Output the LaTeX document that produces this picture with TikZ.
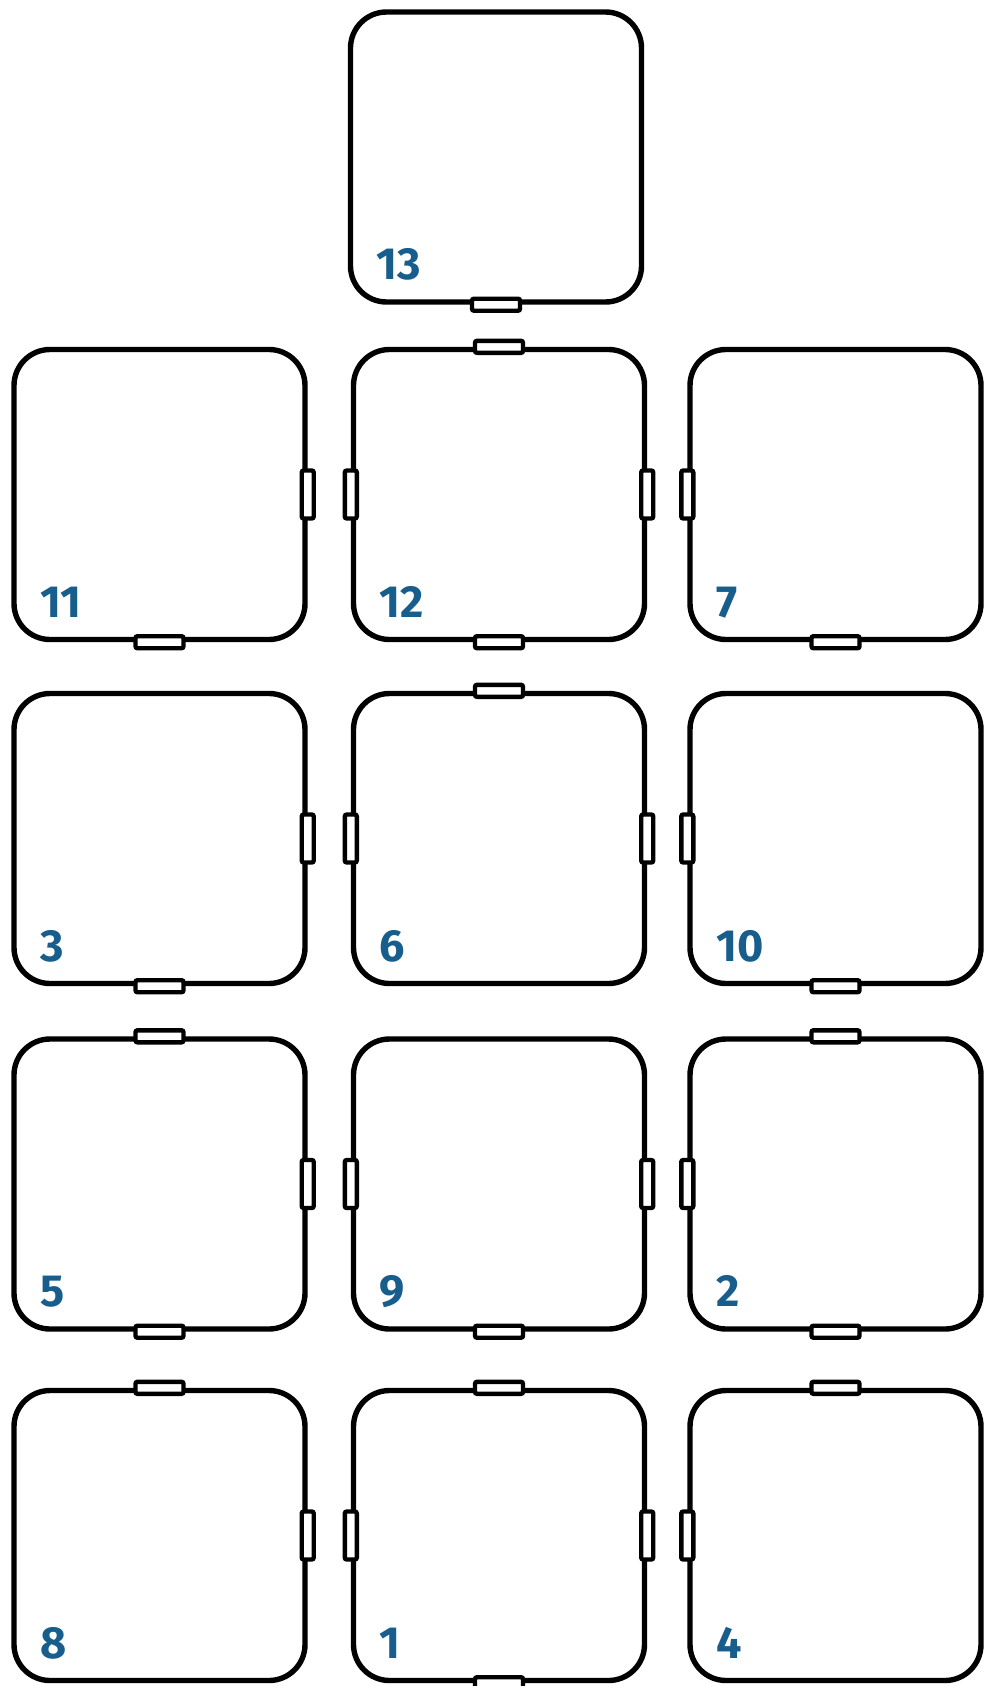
\documentclass[tikz,border=0pt]{standalone}
\usepackage{fontspec}
\setmainfont{Fira Sans}
\definecolor{lblblue}{RGB}{24,94,140}
\tikzset{
  tile/.style={draw=black, line width=5.4pt, rounded corners=36pt, minimum width=291pt, minimum height=290pt, inner sep=0pt, fill=white},
  plugh/.style={draw=black, line width=4.4pt, fill=white, rounded corners=2pt, minimum width=48pt, minimum height=12pt, inner sep=0pt},
  plugv/.style={draw=black, line width=4.4pt, fill=white, rounded corners=2pt, minimum width=12pt, minimum height=48pt, inner sep=0pt},
  num/.style={text=lblblue, font=\fontsize{45}{45}\selectfont\bfseries, anchor=base west, inner sep=0pt, outer sep=0pt}
}
\begin{document}
\begin{tikzpicture}[x=1pt,y=-1pt]
\useasboundingbox (0,0) rectangle (983,1686);
% tiles
\node[tile] (t13) at (496,157) {};
\node[tile] (t11) at (159.5,494.5) {};
\node[tile] (t12) at (499,494.5) {};
\node[tile] (t7)  at (835.5,494.5) {};
\node[tile] (t3)  at (159.5,838.5) {};
\node[tile] (t6)  at (499,838.5) {};
\node[tile] (t10) at (835.5,838.5) {};
\node[tile] (t5)  at (159.5,1184) {};
\node[tile] (t9)  at (499,1184) {};
\node[tile] (t2)  at (835.5,1184) {};
\node[tile] (t8)  at (159.5,1535.5) {};
\node[tile] (t1)  at (499,1535.5) {};
\node[tile] (t4)  at (835.5,1535.5) {};
% labels
\foreach \t in {13,11,12,7,3,6,10,5,9,2,8,1,4}{
  \node[num] (l\t) at ([shift={(29pt,25pt)}]t\t.south west) {\t};
}
% plugs
\node[plugh] (p13s) at (t13.south) {};
\node[plugv] (p11e) at (t11.east) {};
\node[plugh] (p11s) at (t11.south) {};
\node[plugh] (p12n) at (t12.north) {};
\node[plugv] (p12w) at (t12.west) {};
\node[plugv] (p12e) at (t12.east) {};
\node[plugh] (p12s) at (t12.south) {};
\node[plugv] (p7w) at (t7.west) {};
\node[plugh] (p7s) at (t7.south) {};
\node[plugv] (p3e) at (t3.east) {};
\node[plugh] (p3s) at (t3.south) {};
\node[plugh] (p6n) at (t6.north) {};
\node[plugv] (p6w) at (t6.west) {};
\node[plugv] (p6e) at (t6.east) {};
\node[plugv] (p10w) at (t10.west) {};
\node[plugh] (p10s) at (t10.south) {};
\node[plugh] (p5n) at (t5.north) {};
\node[plugv] (p5e) at (t5.east) {};
\node[plugh] (p5s) at (t5.south) {};
\node[plugv] (p9w) at (t9.west) {};
\node[plugv] (p9e) at (t9.east) {};
\node[plugh] (p9s) at (t9.south) {};
\node[plugh] (p2n) at (t2.north) {};
\node[plugv] (p2w) at (t2.west) {};
\node[plugh] (p2s) at (t2.south) {};
\node[plugh] (p8n) at (t8.north) {};
\node[plugv] (p8e) at (t8.east) {};
\node[plugh] (p1n) at (t1.north) {};
\node[plugv] (p1w) at (t1.west) {};
\node[plugv] (p1e) at (t1.east) {};
\node[plugh] (p1s) at (t1.south) {};
\node[plugh] (p4n) at (t4.north) {};
\node[plugv] (p4w) at (t4.west) {};
\end{tikzpicture}
\end{document}
